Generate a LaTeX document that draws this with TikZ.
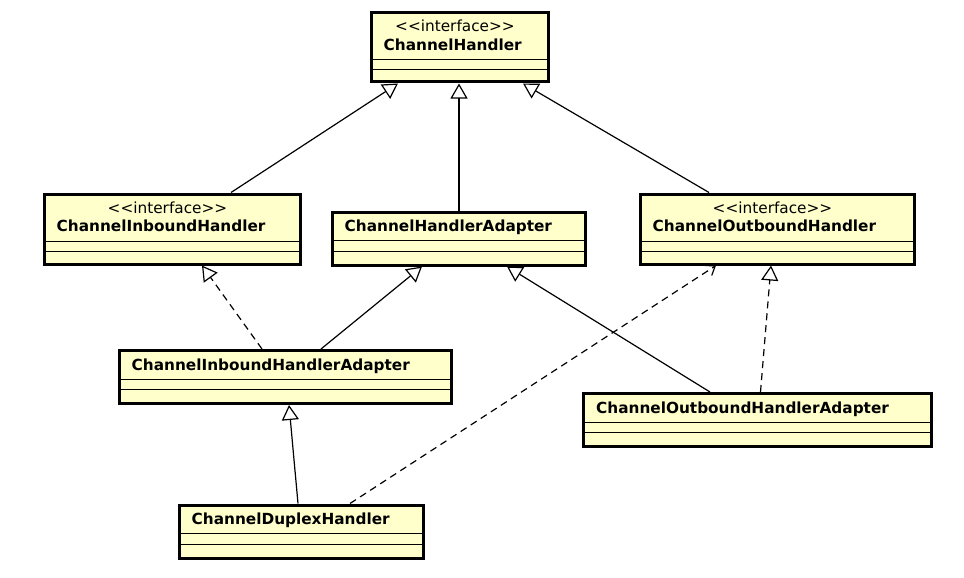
\documentclass[tikz,border=0pt]{standalone}
\usepackage{fontspec}
\setmainfont{DejaVu Sans}
\usetikzlibrary{arrows.meta}
\definecolor{umlfill}{HTML}{FFFFCC}

\begin{document}
\begin{tikzpicture}[x=1pt,y=-1pt,
    cls/.style={draw,line width=3pt,fill=umlfill,anchor=north west,inner sep=0pt},
    stereo/.style={anchor=base,inner sep=0pt,font=\fontsize{15.3}{18}\selectfont},
    cname/.style={anchor=base west,inner sep=0pt,font=\fontsize{15.3}{18}\selectfont\bfseries},
    sepline/.style={line width=1pt,shorten <=1.5pt,shorten >=1.5pt},
    gen/.style={line width=1.2pt,-{Triangle[length=15pt,width=17pt,fill=white]}},
    real/.style={gen,dash pattern=on 7pt off 5pt},
    dep/.style={line width=1.2pt,dash pattern=on 7pt off 5pt,-{Straight Barb[length=8pt,width=12pt]}}]
  \fill[white] (0,0) rectangle (964,578);
  \useasboundingbox (0,0) rectangle (964,578);

  % interfaces
  \node[cls,minimum width=177pt,minimum height=69pt] (ch) at (369.5,11.5) {};
  \node[cls,minimum width=256pt,minimum height=70pt] (cih) at (42.5,192.5) {};
  \node[cls,minimum width=274pt,minimum height=70pt] (coh) at (638.5,192.5) {};
  % classes
  \node[cls,minimum width=253pt,minimum height=53pt] (cha) at (330.5,210.5) {};
  \node[cls,minimum width=332pt,minimum height=53pt] (ciha) at (117.5,349) {};
  \node[cls,minimum width=348pt,minimum height=52.5pt] (coha) at (582,392) {};
  \node[cls,minimum width=244pt,minimum height=53.5pt] (cdh) at (177.5,503.5) {};

  \foreach \n in {ch,cih,coh} {
    \draw[sepline] ([yshift=-48.5pt]\n.north west) -- ([yshift=-48.5pt]\n.north east);
    \draw[sepline] ([yshift=-58.5pt]\n.north west) -- ([yshift=-58.5pt]\n.north east);
  }
  \foreach \n in {cha,ciha,coha,cdh} {
    \draw[sepline] ([yshift=-30pt]\n.north west) -- ([yshift=-30pt]\n.north east);
    \draw[sepline] ([yshift=-40.5pt]\n.north west) -- ([yshift=-40.5pt]\n.north east);
  }

  \node[stereo] (chS) at ([xshift=-4.5pt,yshift=-20.5pt]ch.north) {<{}<interface>{}>};
  \node[cname] (chN) at ([xshift=14pt,yshift=-39pt]ch.north west) {ChannelHandler};
  \node[stereo] (cihS) at ([xshift=-4.5pt,yshift=-20.5pt]cih.north) {<{}<interface>{}>};
  \node[cname] (cihN) at ([xshift=14pt,yshift=-39pt]cih.north west) {ChannelInboundHandler};
  \node[stereo] (cohS) at ([xshift=-4.5pt,yshift=-20.5pt]coh.north) {<{}<interface>{}>};
  \node[cname] (cohN) at ([xshift=14pt,yshift=-39pt]coh.north west) {ChannelOutboundHandler};
  \node[cname] (chaN) at ([xshift=14pt,yshift=-21pt]cha.north west) {ChannelHandlerAdapter};
  \node[cname] (cihaN) at ([xshift=14pt,yshift=-21pt]ciha.north west) {ChannelInboundHandlerAdapter};
  \node[cname] (cohaN) at ([xshift=14pt,yshift=-21pt]coha.north west) {ChannelOutboundHandlerAdapter};
  \node[cname] (cdhN) at ([xshift=14pt,yshift=-21pt]cdh.north west) {ChannelDuplexHandler};

  \draw[gen] ([xshift=188.5pt]cih.north west) -- ([xshift=28.5pt]ch.south west);
  \draw[gen] ([xshift=128.5pt]cha.north west) -- ([xshift=89.5pt]ch.south west);
  \draw[gen] ([xshift=70.5pt]coh.north west) -- ([xshift=153.5pt]ch.south west);
  \draw[real] ([xshift=144.5pt]ciha.north west) -- ([xshift=159.5pt]cih.south west);
  \draw[gen] ([xshift=203.5pt]ciha.north west) -- ([xshift=91.5pt]cha.south west);
  \draw[gen] ([xshift=128pt]coha.north west) -- ([xshift=176.5pt]cha.south west);
  \draw[real] ([xshift=178.5pt]coha.north west) -- ([xshift=132.5pt]coh.south west);
  \draw[gen] ([xshift=120.5pt]cdh.north west) -- ([xshift=171.5pt]ciha.south west);
  \draw[dep] ([xshift=172.5pt]cdh.north west) -- ([xshift=77.5pt]coh.south west);
\end{tikzpicture}
\end{document}
